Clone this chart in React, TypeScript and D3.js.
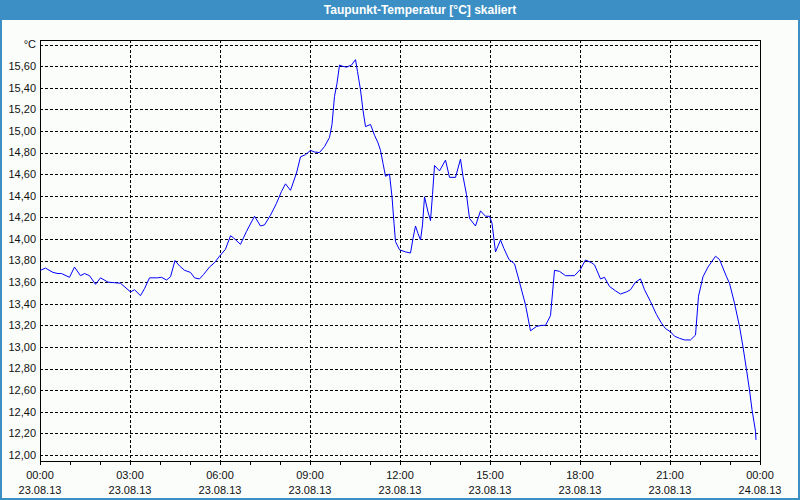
import { useEffect, useRef } from "react"
import * as d3 from "d3"

// Messzeitpunkte (Minuten ab 23.08.13 00:00) und Taupunkt-Werte in °C
const minutes = [
  1, 11, 26, 36, 43, 59, 69, 81, 89, 99, 111, 121, 136, 149, 161, 181, 189, 201, 209, 219,
  235, 243, 253, 261, 270, 279, 289, 301, 309, 319, 327, 339, 349, 359, 371, 381, 387, 401,
  413, 429, 441, 449, 461, 473, 483, 491, 501, 513, 521, 531, 541, 549, 559, 569, 579, 584,
  589, 594, 599, 604, 613, 623, 631, 635, 641, 646, 651, 661, 669, 676, 681, 686, 691, 699,
  704, 708, 711, 719, 731, 741, 746, 751, 756, 761, 765, 769, 776, 781, 785, 789, 799, 811,
  819, 831, 841, 846, 853, 859, 871, 881, 891, 899, 904, 911, 921, 928, 938, 949, 959, 971,
  981, 993, 1003, 1011, 1021, 1029, 1039, 1051, 1069, 1081, 1091, 1103, 1109, 1121, 1129,
  1139, 1151, 1161, 1173, 1181, 1191, 1201, 1209, 1221, 1233, 1243, 1251, 1261, 1269, 1279,
  1289, 1301, 1311, 1317, 1326, 1336, 1351, 1359, 1373, 1379, 1389, 1399, 1406, 1413, 1419,
  1424, 1431, 1432,
]
const dewPoint = [
  13.71, 13.73, 13.69, 13.68, 13.68, 13.645, 13.74, 13.66, 13.68, 13.66, 13.58, 13.64, 13.6,
  13.595, 13.59, 13.51, 13.53, 13.475, 13.54, 13.64, 13.64, 13.645, 13.62, 13.65, 13.8, 13.75,
  13.71, 13.69, 13.64, 13.63, 13.67, 13.74, 13.78, 13.84, 13.905, 14.03, 14.01, 13.95, 14.07,
  14.21, 14.12, 14.13, 14.22, 14.33, 14.44, 14.51, 14.45, 14.61, 14.76, 14.78, 14.82, 14.805,
  14.8, 14.855, 14.94, 15.06, 15.32, 15.44, 15.61, 15.6, 15.59, 15.61, 15.66, 15.55, 15.38,
  15.19, 15.04, 15.06, 14.96, 14.89, 14.82, 14.7, 14.58, 14.6, 14.39, 14.145, 13.975, 13.9,
  13.88, 13.87, 14.005, 14.12, 14.05, 13.99, 14.13, 14.39, 14.25, 14.17, 14.41, 14.68, 14.63,
  14.73, 14.57, 14.57, 14.74, 14.58, 14.41, 14.19, 14.12, 14.26, 14.21, 14.21, 14.145, 13.88,
  13.99, 13.91, 13.81, 13.77, 13.6, 13.39, 13.15, 13.19, 13.2, 13.2, 13.29, 13.71, 13.7,
  13.66, 13.66, 13.72, 13.805, 13.78, 13.76, 13.63, 13.645, 13.56, 13.52, 13.49, 13.51, 13.53,
  13.6, 13.63, 13.53, 13.42, 13.3, 13.22, 13.17, 13.14, 13.1, 13.08, 13.065, 13.065, 13.11,
  13.47, 13.65, 13.74, 13.84, 13.81, 13.65, 13.59, 13.405, 13.19, 13.0, 12.79, 12.6, 12.42,
  12.22, 12.14,
]

const yTicks = [
  12.0, 12.2, 12.4, 12.6, 12.8, 13.0, 13.2, 13.4, 13.6, 13.8, 14.0, 14.2, 14.4, 14.6, 14.8,
  15.0, 15.2, 15.4, 15.6,
]
const yUnit = "°C"
const xMajorMinutes = [0, 180, 360, 540, 720, 900, 1080, 1260, 1440]
const xTimeLabels = ["00:00", "03:00", "06:00", "09:00", "12:00", "15:00", "18:00", "21:00", "00:00"]
const xDateLabels = [
  "23.08.13", "23.08.13", "23.08.13", "23.08.13", "23.08.13", "23.08.13", "23.08.13", "23.08.13",
  "24.08.13",
]
const title = "Taupunkt-Temperatur [°C] skaliert"

export default function App() {
  const svgRef = useRef(null)

  useEffect(() => {
    if (!svgRef.current) return
    const svg = d3.select(svgRef.current)
    svg.selectAll("*").remove()

    const width = 800
    const height = 500
    const font = "'Liberation Sans', Arial, sans-serif"
    const plot = { left: 40, right: 760, top: 40, bottom: 461 }

    const x = d3.scaleLinear().domain([0, 1440]).range([plot.left, plot.right])
    const y = d3.scaleLinear().domain([12, 15.8]).range([455, 44.5])
    const px = (v) => Math.round(v) + 0.5

    // Fenster
    svg.append("rect").attr("width", width).attr("height", height).attr("fill", "#fbfdfb")
    svg.append("rect").attr("width", width).attr("height", 20).attr("fill", "#3b8fc4")
    svg
      .append("rect")
      .attr("x", 1)
      .attr("y", 1)
      .attr("width", width - 2)
      .attr("height", height - 2)
      .attr("fill", "none")
      .attr("stroke", "#3b8fc4")
      .attr("stroke-width", 2)
    svg
      .append("text")
      .attr("x", 420)
      .attr("y", 14)
      .attr("text-anchor", "middle")
      .attr("font-family", font)
      .attr("font-size", "12px")
      .attr("font-weight", "bold")
      .attr("fill", "white")
      .text(title)

    const g = svg.append("g")

    // horizontale Gitterlinien
    const hLines = [...yTicks, 15.8]
    g.selectAll(".hgrid")
      .data(hLines)
      .enter()
      .append("line")
      .attr("x1", plot.left)
      .attr("x2", plot.right)
      .attr("y1", (d) => px(y(d)))
      .attr("y2", (d) => px(y(d)))
      .attr("stroke", "black")
      .attr("stroke-dasharray", "3,2")
      .attr("shape-rendering", "crispEdges")

    // vertikale Gitterlinien
    g.selectAll(".vgrid")
      .data(xMajorMinutes.slice(1, -1))
      .enter()
      .append("line")
      .attr("x1", (d) => px(x(d)))
      .attr("x2", (d) => px(x(d)))
      .attr("y1", plot.top)
      .attr("y2", plot.bottom)
      .attr("stroke", "black")
      .attr("stroke-dasharray", "3,2")
      .attr("shape-rendering", "crispEdges")

    // Rahmen
    g.append("path")
      .attr(
        "d",
        `M${px(plot.left)},${px(plot.top)}H${px(plot.right)}V${px(plot.bottom)}H${px(plot.left)}Z`
      )
      .attr("fill", "none")
      .attr("stroke", "black")
      .attr("shape-rendering", "crispEdges")

    // Ticks der Zeitachse (stündlich)
    g.selectAll(".xtick")
      .data(d3.range(0, 1441, 60))
      .enter()
      .append("line")
      .attr("x1", (d) => px(x(d)))
      .attr("x2", (d) => px(x(d)))
      .attr("y1", plot.bottom)
      .attr("y2", plot.bottom + 4)
      .attr("stroke", "black")
      .attr("shape-rendering", "crispEdges")

    g.selectAll(".xtime")
      .data(xMajorMinutes)
      .enter()
      .append("text")
      .attr("x", (d) => x(d))
      .attr("y", 479)
      .attr("text-anchor", "middle")
      .attr("font-family", font)
      .attr("font-size", "11px")
      .attr("fill", "#111")
      .text((d, i) => xTimeLabels[i])

    g.selectAll(".xdate")
      .data(xMajorMinutes)
      .enter()
      .append("text")
      .attr("x", (d) => x(d))
      .attr("y", 494)
      .attr("text-anchor", "middle")
      .attr("font-family", font)
      .attr("font-size", "11px")
      .attr("fill", "#111")
      .text((d, i) => xDateLabels[i])

    // Beschriftung Y-Achse
    const fmt = (v) => v.toFixed(2).replace(".", ",")
    g.selectAll(".ylabel")
      .data(yTicks)
      .enter()
      .append("text")
      .attr("x", 36)
      .attr("y", (d) => y(d))
      .attr("dy", "0.35em")
      .attr("text-anchor", "end")
      .attr("font-family", font)
      .attr("font-size", "11px")
      .attr("fill", "#111")
      .text((d) => fmt(d))

    g.append("text")
      .attr("x", 36)
      .attr("y", y(15.8))
      .attr("dy", "0.35em")
      .attr("text-anchor", "end")
      .attr("font-family", font)
      .attr("font-size", "11px")
      .attr("fill", "#111")
      .text(yUnit)

    // Messkurve
    const data = minutes.map((m, i) => ({ m, v: dewPoint[i] }))
    const line = d3
      .line()
      .x((d) => x(d.m))
      .y((d) => y(d.v))

    g.append("path")
      .datum(data)
      .attr("d", line)
      .attr("fill", "none")
      .attr("stroke", "#0000ff")
      .attr("stroke-width", 1)

    svg.attr("width", width).attr("height", height).attr("viewBox", [0, 0, width, height])
  }, [])

  return (
    <svg
      ref={svgRef}
      style={{ position: "absolute", left: 0, top: 0, display: "block" }}
    ></svg>
  )
}
